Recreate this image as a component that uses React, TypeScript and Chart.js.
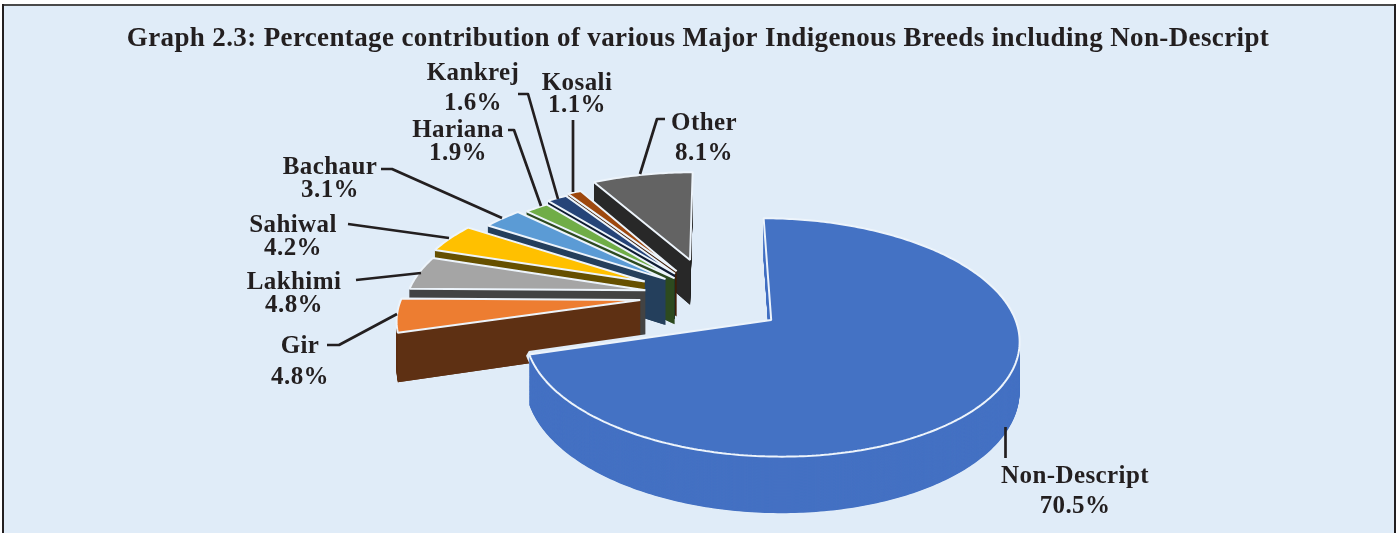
import React, { useEffect, useRef } from "react";
import { Chart, registerables } from "chart.js";

Chart.register(...registerables);

const categories = ["Non-Descript", "Gir", "Lakhimi", "Sahiwal", "Bachaur", "Hariana", "Kankrej", "Kosali", "Other"];
const shares = [70.5, 4.8, 4.8, 4.2, 3.1, 1.9, 1.6, 1.1, 8.1];
const explosion = [72, 72, 68, 76, 61, 57, 65, 71, 92];
const lift = [0, 4, 4, 3, 3, 2, 2, 1, 0];
const faceColors = ["#4472C4", "#ED7D31", "#A5A5A5", "#FFC000", "#5B9BD5", "#70AD47", "#264478", "#9E480E", "#636363"];
const wallColors = ["#4471C3", "#5E3013", "#434343", "#665000", "#243F5C", "#2D4A1F", "#0F1C33", "#3F1D06", "#282828"];
const titleText = "Graph 2.3: Percentage contribution of various Major Indigenous Breeds including Non-Descript";

// label anchor: centre x, baseline of name, baseline of value
const labelSpots: Record<string, [number, number, number]> = {
  "Non-Descript": [1075, 483, 513],
  Gir: [300, 353, 384],
  Lakhimi: [294, 289, 312],
  Sahiwal: [293, 232, 255],
  Bachaur: [330, 174, 197],
  Hariana: [458, 137, 160],
  Kankrej: [473, 80, 110],
  Kosali: [577, 90, 112],
  Other: [704, 130, 160],
};
const leaders: Record<string, number[][]> = {
  "Non-Descript": [[1005.5, 427], [1005.5, 458]],
  Gir: [[327, 345], [339, 345], [397, 314]],
  Lakhimi: [[356, 280], [421, 273]],
  Sahiwal: [[348, 224], [449, 238]],
  Bachaur: [[381, 169], [392, 169], [502, 218]],
  Hariana: [[508, 130], [514, 130], [541, 206]],
  Kankrej: [[518, 94], [528, 94], [558, 199]],
  Kosali: [[573, 120], [573, 192]],
  Other: [[665, 119], [657, 119], [640, 174]],
};

const W = 1396;
const H = 533;
const VIEW = { cx: 712, cy: 299.4, tilt: 0.465, persp: 0.0006, depth: 47 };
const INK = "#231F20";
const PAPER = "#E0ECF8";

function project(px: number, py: number, z: number) {
  const s = 1 / (1 - VIEW.persp * py);
  return [VIEW.cx + px * s, VIEW.cy + (VIEW.tilt * py + z) * s];
}

// A context that sends every path point through the pie's 3D projection.
function projectedContext(ctx: CanvasRenderingContext2D, el: any, z: number, dist: number) {
  const mid = (el.startAngle + el.endAngle) / 2;
  const ex = Math.cos(mid) * dist;
  const ey = Math.sin(mid) * dist;
  let tx = 0;
  let ty = 0;
  const stack: number[][] = [];
  const map = (x: number, y: number) => project(x + tx - el.x + ex, y + ty - el.y + ey, z);
  const own: any = {
    save() { stack.push([tx, ty]); ctx.save(); },
    restore() { const t = stack.pop(); if (t) { tx = t[0]; ty = t[1]; } ctx.restore(); },
    translate(x: number, y: number) { tx += x; ty += y; },
    moveTo(x: number, y: number) { const p = map(x, y); ctx.moveTo(p[0], p[1]); },
    lineTo(x: number, y: number) { const p = map(x, y); ctx.lineTo(p[0], p[1]); },
    arc(x: number, y: number, r: number, a0: number, a1: number) {
      const n = Math.max(2, Math.ceil(Math.abs(a1 - a0) / 0.015));
      for (let i = 0; i <= n; i++) {
        const a = a0 + ((a1 - a0) * i) / n;
        const p = map(x + r * Math.cos(a), y + r * Math.sin(a));
        ctx.lineTo(p[0], p[1]);
      }
    },
  };
  return new Proxy(ctx, {
    get(target: any, prop) {
      if (prop in own) return own[prop];
      const v = target[prop];
      return typeof v === "function" ? v.bind(target) : v;
    },
    set(target: any, prop, value) { target[prop] = value; return true; },
  });
}

// The flat wall under a slice's first radial edge: the one facing the viewer.
function radialWall(ctx: CanvasRenderingContext2D, el: any, dist: number, up: number, color: string) {
  const mid = (el.startAngle + el.endAngle) / 2;
  const ax = Math.cos(mid) * dist;
  const ay = Math.sin(mid) * dist;
  const bx = ax + Math.cos(el.startAngle) * el.outerRadius;
  const by = ay + Math.sin(el.startAngle) * el.outerRadius;
  const low = VIEW.depth - up;
  const corners = [project(ax, ay, -up), project(bx, by, -up), project(bx, by, low), project(ax, ay, low)];
  ctx.save();
  ctx.fillStyle = color;
  ctx.beginPath();
  corners.forEach((p, k) => (k ? ctx.lineTo(p[0], p[1]) : ctx.moveTo(p[0], p[1])));
  ctx.closePath();
  ctx.fill();
  ctx.restore();
}

const backdrop = {
  id: "backdrop",
  beforeDraw(chart: any) {
    const { ctx } = chart;
    ctx.save();
    ctx.fillStyle = "#FFFFFF";
    ctx.fillRect(0, 0, W, H);
    ctx.fillStyle = PAPER;
    ctx.fillRect(3, 5, W - 4, H - 5);
    ctx.fillStyle = "#4A4A4A";
    ctx.fillRect(2, 4, W - 2, 2);
    ctx.fillStyle = INK;
    ctx.fillRect(2, 4, 2, H - 4);
    ctx.fillRect(W - 2, 4, 2, H - 4);
    ctx.restore();
    ctx.letterSpacing = "0.37px";
  },
};

const pie3d = {
  id: "pie3d",
  beforeDatasetDraw(chart: any, args: any) {
    const { ctx } = chart;
    const arcs: any[] = args.meta.data;
    // back to front: last slice first, the big front slice last
    const order = arcs.map((_, i) => i).reverse();
    order.forEach((i) => {
      const el = arcs[i];
      const base = el.options;
      const up = lift[i];
      if (i === 0) {
        el.options = { ...base, backgroundColor: PAPER, borderColor: PAPER, borderWidth: 7 };
        el.draw(projectedContext(ctx, el, 0, explosion[i]));
      }
      el.options = { ...base, backgroundColor: wallColors[i], borderColor: wallColors[i], borderWidth: 0 };
      for (let z = VIEW.depth; z > 0; z -= 0.5) {
        el.draw(projectedContext(ctx, el, z - up, explosion[i]));
      }
      if (i !== 0) radialWall(ctx, el, explosion[i], up, wallColors[i]);
      el.options = base;
      el.draw(projectedContext(ctx, el, -up, explosion[i]));
    });
    return false;
  },
};

const callouts = {
  id: "callouts",
  afterDraw(chart: any) {
    const { ctx } = chart;
    ctx.save();
    ctx.strokeStyle = INK;
    ctx.lineWidth = 2.7;
    ctx.lineJoin = "round";
    ctx.fillStyle = INK;
    ctx.font = 'bold 25px "Liberation Serif"';
    ctx.letterSpacing = "0.4px";
    ctx.textAlign = "center";
    ctx.textBaseline = "alphabetic";
    categories.forEach((name, i) => {
      const line = leaders[name];
      ctx.beginPath();
      line.forEach((p, k) => (k ? ctx.lineTo(p[0], p[1]) : ctx.moveTo(p[0], p[1])));
      ctx.stroke();
      const [x, y1, y2] = labelSpots[name];
      ctx.fillText(name, x, y1);
      ctx.fillText(`${shares[i].toFixed(1)}%`, x, y2);
    });
    ctx.restore();
  },
};

export default function App() {
  const ref = useRef<HTMLCanvasElement>(null);
  useEffect(() => {
    document.body.style.margin = "0";
    const chart = new Chart(ref.current as HTMLCanvasElement, {
      type: "pie",
      data: {
        labels: categories,
        datasets: [{
          data: shares,
          backgroundColor: faceColors,
          borderColor: "#EDF4FB",
          borderWidth: 2,
          radius: 238,
        }],
      },
      options: {
        responsive: false,
        animation: false,
        events: [],
        rotation: 0,
        plugins: {
          legend: { display: false },
          tooltip: { enabled: false },
          title: {
            display: true,
            text: titleText,
            color: INK,
            font: { family: '"Liberation Serif"', size: 27, weight: "bold" },
            padding: { top: 23, bottom: 10 },
          },
        },
      },
      plugins: [backdrop, pie3d, callouts],
    } as any);
    return () => chart.destroy();
  }, []);
  return (
    <div style={{ width: W, height: H, overflow: "hidden" }}>
      <canvas ref={ref} width={W} height={H} style={{ display: "block" }} />
    </div>
  );
}
